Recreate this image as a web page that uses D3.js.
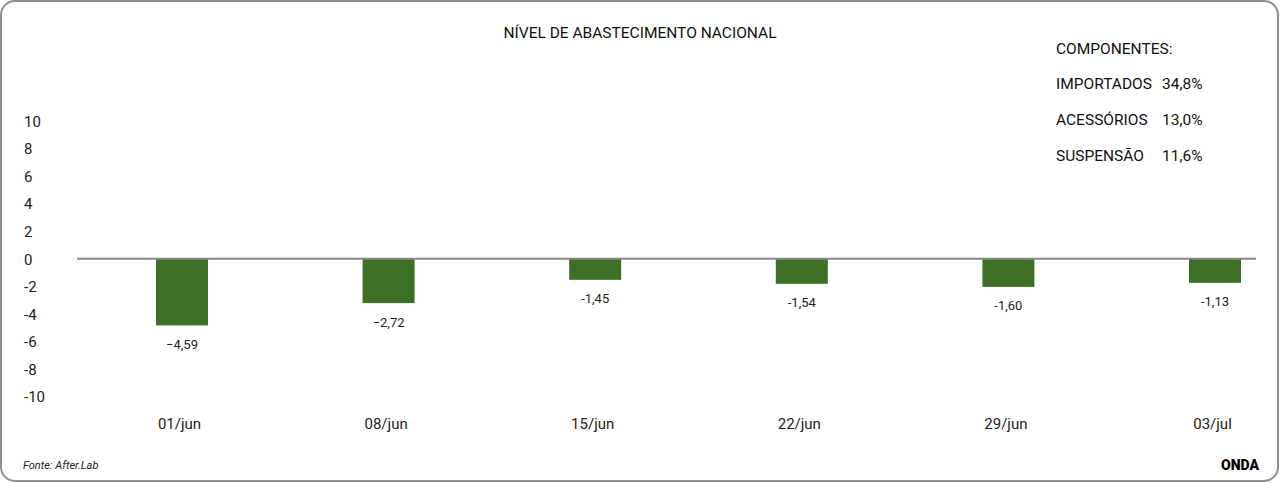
<!DOCTYPE html>
<html><head><meta charset="utf-8">
<script src="https://cdn.jsdelivr.net/npm/d3@7"></script>
<style>
html,body{margin:0;padding:0;background:#fff;}
svg{display:block;font-family:Roboto,"Noto Sans",sans-serif;}
</style></head>
<body>
<script>
const categories = ["01/jun","08/jun","15/jun","22/jun","29/jun","03/jul"];
const barValues = [-4.84,-3.22,-1.53,-1.82,-2.04,-1.75];
const valueLabels = ["\u22124,59","\u22122,72","-1,45","-1,54","-1,60","-1,13"];
const yTicks = [10,8,6,4,2,0,-2,-4,-6,-8,-10];
const legendNames = ["IMPORTADOS","ACESSÓRIOS","SUSPENSÃO"];
const legendValues = ["34,8%","13,0%","11,6%"];

const W = 1280, H = 483;
const svg = d3.select("body").append("svg").attr("width", W).attr("height", H);

svg.append("rect").attr("x",1).attr("y",1).attr("width",W-3).attr("height",H-3)
  .attr("rx",14).attr("ry",14).attr("fill","#fff").attr("stroke","#8f8f8f").attr("stroke-width",2);

const y = d3.scaleLinear().domain([-10,10]).range([396.5,121]);
const x = d3.scalePoint().domain(categories).range([182,1215]);
const barW = 52;

// y tick labels
const yAxis = d3.axisLeft(y).tickValues(yTicks).tickSize(0).tickFormat(d => d);
const ya = svg.append("g").attr("transform","translate(24,0)").call(yAxis);
ya.select(".domain").remove();
ya.selectAll("text").attr("text-anchor","start").attr("x",0).attr("dy","0.35em")
  .attr("font-size",15).attr("fill","#222").attr("font-family","Roboto,sans-serif");

// x category labels
const xAxis = d3.axisBottom(x).tickSize(0);
const xa = svg.append("g").attr("transform","translate(-3,424)").call(xAxis);
xa.select(".domain").remove();
xa.selectAll("text").attr("y",0).attr("dy","0.35em").attr("font-size",15).attr("fill","#222")
  .attr("font-family","Roboto,sans-serif");

// bars
svg.selectAll("rect.bar").data(categories).enter().append("rect").attr("class","bar")
  .attr("x", d => x(d) - barW/2)
  .attr("y", (d,i) => Math.min(y(0), y(barValues[i])))
  .attr("width", barW)
  .attr("height", (d,i) => Math.abs(y(barValues[i]) - y(0)))
  .attr("fill","#3c7026");

// zero line
svg.append("line").attr("x1",77).attr("x2",1256).attr("y1",y(0)).attr("y2",y(0))
  .attr("stroke","#888").attr("stroke-width",2);

// value labels
svg.selectAll("text.vl").data(categories).enter().append("text").attr("class","vl")
  .attr("x", d => x(d))
  .attr("y", (d,i) => y(barValues[i]) + 19)
  .attr("dy","0.35em").attr("text-anchor","middle").attr("font-size",13).attr("fill","#222")
  .text((d,i) => valueLabels[i]);

// title
svg.append("text").attr("x",640).attr("y",33).attr("dy","0.35em").attr("text-anchor","middle")
  .attr("font-size",15.5).attr("fill","#111").text("NÍVEL DE ABASTECIMENTO NACIONAL");

// legend
svg.append("text").attr("x",1056).attr("y",49).attr("dy","0.35em").attr("font-size",15.5)
  .attr("fill","#111").text("COMPONENTES:");
const lg = svg.selectAll("g.lg").data(legendNames).enter().append("g").attr("class","lg");
lg.append("text").attr("x",1056).attr("y",(d,i)=>84+i*35.8).attr("dy","0.35em")
  .attr("font-size",15.5).attr("fill","#111").text(d=>d);
lg.append("text").attr("x",1162).attr("y",(d,i)=>84+i*35.8).attr("dy","0.35em")
  .attr("font-size",15.5).attr("fill","#111").text((d,i)=>legendValues[i]);

// footer
svg.append("text").attr("x",23).attr("y",465).attr("dy","0.35em").attr("font-size",11)
  .attr("font-style","italic").attr("fill","#222").text("Fonte: After.Lab");
svg.append("text").attr("x",1259).attr("y",465).attr("dy","0.35em").attr("text-anchor","end")
  .attr("font-size",14).attr("font-weight","900").attr("fill","#000").text("ONDA");
</script>
</body></html>
